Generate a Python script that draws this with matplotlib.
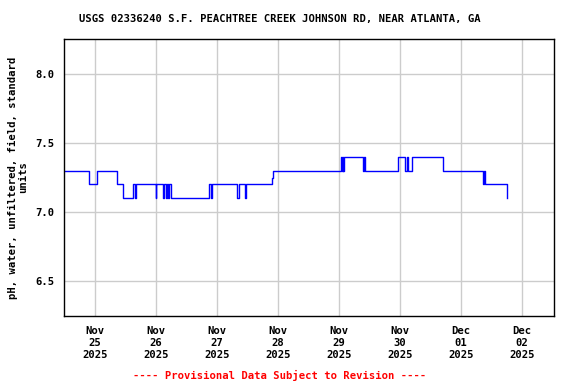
import matplotlib
matplotlib.use("Agg")
import matplotlib.pyplot as plt
import matplotlib.dates as mdates
import pandas as pd

# step changes (time, pH)
times = [
    "2025-11-24 11:50", "2025-11-24 21:30", "2025-11-25 00:55", "2025-11-25 08:30",
    "2025-11-25 11:08", "2025-11-25 14:50", "2025-11-25 15:50", "2025-11-25 16:05",
    "2025-11-25 23:50", "2025-11-26 00:10", "2025-11-26 02:45", "2025-11-26 03:05",
    "2025-11-26 03:50", "2025-11-26 04:10", "2025-11-26 04:50", "2025-11-26 05:05",
    "2025-11-26 05:45", "2025-11-26 21:00", "2025-11-26 21:45", "2025-11-26 22:00",
    "2025-11-27 08:00", "2025-11-27 08:40", "2025-11-27 11:08", "2025-11-27 11:35",
    "2025-11-27 21:45", "2025-11-27 22:05", "2025-11-29 00:40", "2025-11-29 01:00",
    "2025-11-29 01:25", "2025-11-29 01:40", "2025-11-29 01:55", "2025-11-29 09:30",
    "2025-11-29 09:50", "2025-11-29 10:05", "2025-11-29 23:05", "2025-11-30 02:05",
    "2025-11-30 02:45", "2025-11-30 03:15", "2025-11-30 04:35", "2025-11-30 17:00",
    "2025-12-01 08:45", "2025-12-01 09:00", "2025-12-01 09:15", "2025-12-01 09:25",
    "2025-12-01 18:00",
]
ph = [
    7.3, 7.2, 7.3, 7.2,
    7.1, 7.2, 7.1, 7.2,
    7.1, 7.2, 7.1, 7.2,
    7.1, 7.2, 7.1, 7.2,
    7.1, 7.2, 7.1, 7.2,
    7.1, 7.2, 7.1, 7.2,
    7.25, 7.3, 7.4, 7.3,
    7.4, 7.3, 7.4, 7.3,
    7.4, 7.3, 7.4, 7.3,
    7.4, 7.3, 7.4, 7.3,
    7.2, 7.3, 7.2, 7.2,
    7.1,
]
yticks = [6.5, 7.0, 7.5, 8.0]
xticks = ["2025-11-25", "2025-11-26", "2025-11-27", "2025-11-28",
          "2025-11-29", "2025-11-30", "2025-12-01", "2025-12-02"]

font = "DejaVu Sans Mono"
fs = 7.6
t = pd.to_datetime(times)

fig = plt.figure(figsize=(5.76, 3.84), dpi=100)
ax = fig.add_axes([0.1111, 0.1771, 0.8507, 0.7213])
ax.plot(t, ph, color="#0000ff", lw=1, drawstyle="steps-post")

ax.set_xlim(pd.Timestamp("2025-11-24 11:50"), pd.Timestamp("2025-12-02 12:30"))
ax.set_ylim(6.246, 8.254)
ax.set_yticks(yticks)
ax.set_yticklabels([f"{v:.1f}" for v in yticks], fontfamily=font,
                   fontweight="bold", fontsize=fs)
ax.set_xticks(pd.to_datetime(xticks))
ax.xaxis.set_major_formatter(mdates.DateFormatter("%b\n%d\n%Y"))
for lab in ax.get_xticklabels():
    lab.set_fontfamily(font)
    lab.set_fontweight("bold")
    lab.set_fontsize(fs)
    lab.set_linespacing(1.25)
ax.tick_params(axis="both", length=0)
ax.tick_params(axis="x", pad=7.5)
ax.tick_params(axis="y", pad=7)
ax.grid(True, color="#cccccc", lw=1)
ax.set_axisbelow(True)
for s in ax.spines.values():
    s.set_linewidth(1)

ax.set_ylabel("pH, water, unfiltered, field, standard\nunits", fontfamily=font,
              fontweight="bold", fontsize=fs, linespacing=1.0, labelpad=5)

fig.text(280 / 576, 1 - 19 / 384,
         "USGS 02336240 S.F. PEACHTREE CREEK JOHNSON RD, NEAR ATLANTA, GA",
         ha="center", va="center", fontfamily=font, fontweight="bold", fontsize=fs)
fig.text(280 / 576, 1 - 375 / 384, "---- Provisional Data Subject to Revision ----",
         ha="center", va="center", color="red", fontfamily=font,
         fontweight="bold", fontsize=fs)

fig.savefig("out.png", dpi=100)
